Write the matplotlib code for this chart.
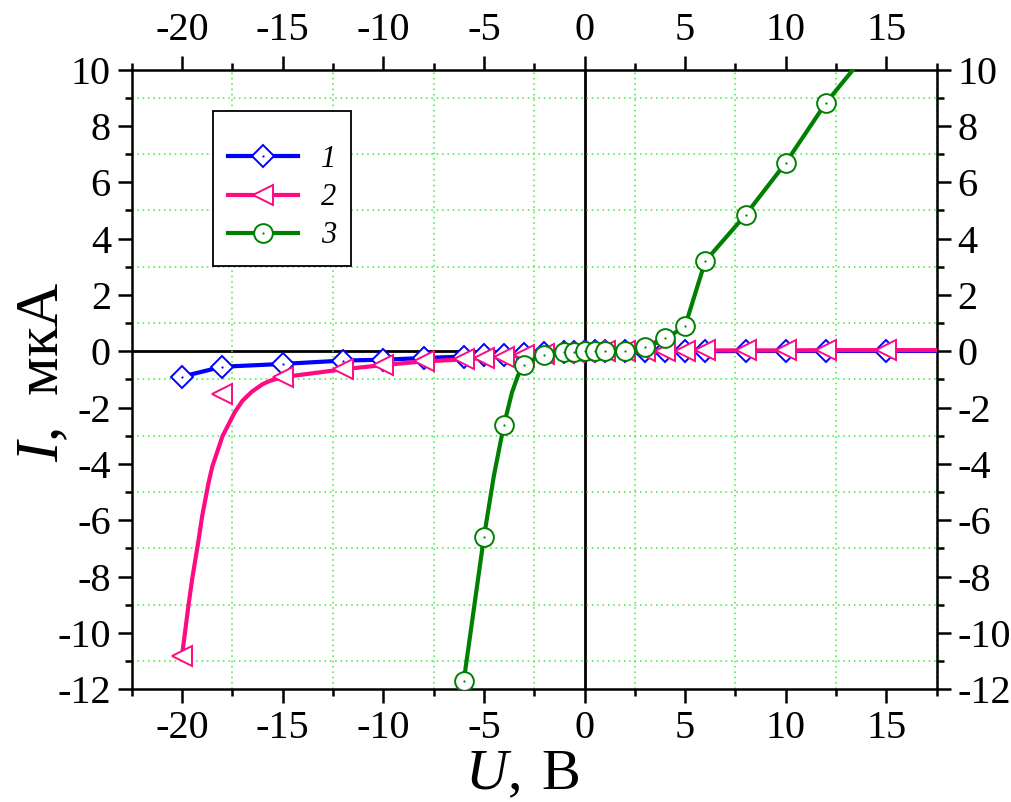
import matplotlib
matplotlib.use("Agg")
import matplotlib.pyplot as plt
from matplotlib.ticker import MultipleLocator, FixedLocator
from matplotlib.legend_handler import HandlerTuple
from matplotlib.patches import Rectangle

plt.rcParams['font.family'] = ['Liberation Serif', 'DejaVu Serif']
plt.rcParams['mathtext.fontset'] = 'custom'
plt.rcParams['mathtext.it'] = 'Liberation Serif:italic'
plt.rcParams['mathtext.rm'] = 'Liberation Serif'
plt.rcParams['axes.unicode_minus'] = False

# ---- data ----
U12 = [-20, -18, -15, -12, -10, -8, -6, -5, -4, -3, -2, -1, -0.5, 0, 0.5, 1, 2, 3, 4, 5, 6, 8, 10, 12, 15]
I1 = [-0.9, -0.55, -0.45, -0.33, -0.3, -0.24, -0.19, -0.15, -0.12, -0.08, -0.05, -0.03, -0.02, 0.0,
      0.0, 0.0, 0.0, 0.0, 0.0, 0.0, 0.0, 0.01, 0.01, 0.01, 0.01]
I2 = [-10.8, -1.52, -0.92, -0.64, -0.49, -0.36, -0.29, -0.24, -0.2, -0.13, -0.08, -0.05, -0.03, -0.01,
      0.0, 0.01, 0.01, 0.02, 0.02, 0.02, 0.03, 0.03, 0.03, 0.04, 0.04]
U3 = [-6, -5, -4, -3, -2, -1, -0.5, 0, 0.5, 1, 2, 3, 4, 5, 6, 8, 10, 12]
I3 = [-11.7, -6.6, -2.6, -0.5, -0.14, -0.03, -0.02, 0.0, 0.0, 0.01, 0.02, 0.15, 0.46, 0.9, 3.2, 4.84, 6.69, 8.82]

# curve traces
L1_U = [-20, -18, -15, -12, -10, -8, -6, -5, -4, -3, -2, -1, 0, 1, 2, 4, 6, 8, 10, 12, 15, 17.5]
L1_I = [-0.9, -0.55, -0.45, -0.33, -0.3, -0.24, -0.19, -0.15, -0.12, -0.08, -0.05, -0.03, 0.0, 0.0,
        0.0, 0.0, 0.0, 0.01, 0.01, 0.01, 0.01, 0.01]
L2_U = [-20, -19.69, -19.5, -19.19, -19.0, -18.69, -18.5, -18.11, -18.0, -17.37, -17.0, -16.54, -16.0,
        -15.63, -15, -12, -10, -8, -6, -5, -4, -3, -2, -1, 0, 1, 2, 4, 6, 8, 10, 12, 15, 17.5]
L2_I = [-10.8, -9.07, -8.1, -6.75, -5.85, -4.69, -4.1, -3.27, -3.03, -2.15, -1.76, -1.44, -1.17,
        -1.05, -0.92, -0.64, -0.49, -0.36, -0.29, -0.24, -0.2, -0.13, -0.08, -0.05, -0.01, 0.01, 0.01,
        0.02, 0.03, 0.03, 0.03, 0.04, 0.04, 0.04]
L3_U = [-6, -5, -4.5, -4, -3.6, -3.3, -3, -2.5, -2, -1, 0, 1, 2, 3, 3.5, 4, 4.5, 5, 6, 8, 10, 12, 13.35]
L3_I = [-11.7, -6.6, -4.4, -2.6, -1.45, -0.85, -0.5, -0.27, -0.14, -0.03, 0.0, 0.01, 0.02, 0.15, 0.28,
        0.46, 0.66, 0.9, 3.2, 4.84, 6.69, 8.82, 10.0]

labels = ['1', '2', '3']
c_blue = '#0000FF'
c_pink = '#FF0A82'
c_green = '#008000'

fig = plt.figure(figsize=(10.11, 8.02), dpi=100)
ax = fig.add_axes([0.1303, 0.1405, 0.7962, 0.7728])

ax.set_xlim(-22.5, 17.5)
ax.set_ylim(-12, 10)

ax.xaxis.set_major_locator(MultipleLocator(5))
ax.xaxis.set_minor_locator(FixedLocator([-22.5, -17.5, -12.5, -7.5, -2.5, 2.5, 7.5, 12.5, 17.5]))
ax.yaxis.set_major_locator(MultipleLocator(2))
ax.yaxis.set_minor_locator(MultipleLocator(1))

ax.grid(True, which='minor', color='#33F033', linestyle=(0, (1, 2.5)), linewidth=1.1)
ax.grid(False, which='major')
ax.axhline(0, color='black', lw=2.0, zorder=1.5)
ax.axvline(0, color='black', lw=2.0, zorder=1.5)

lw = 3.0
mew = 1.4
ax.plot(L1_U, L1_I, color=c_blue, lw=lw, zorder=3)
m1, = ax.plot(U12, I1, linestyle='none', marker='D', ms=11.5, mfc='white', mec=c_blue, mew=mew, zorder=4)
d1, = ax.plot(U12, I1, linestyle='none', marker='o', ms=1.6, mfc=c_blue, mec=c_blue, mew=0, zorder=4.1)

ax.plot(L2_U, L2_I, color=c_pink, lw=lw, zorder=5, solid_joinstyle='round')
m2, = ax.plot(U12, I2, linestyle='none', marker='<', ms=15, mfc='white', mec=c_pink, mew=mew, zorder=6)

ax.plot(L3_U, L3_I, color=c_green, lw=lw, zorder=7, solid_joinstyle='round')
m3, = ax.plot(U3, I3, linestyle='none', marker='o', ms=13.5, mfc='white', mec=c_green, mew=mew, zorder=8)
d3, = ax.plot(U3, I3, linestyle='none', marker='o', ms=1.6, mfc=c_green, mec=c_green, mew=0, zorder=8.1)

# legend frame
ax.add_patch(Rectangle((0.1006, 0.6834), 0.1714, 0.2496, transform=ax.transAxes, facecolor='white',
                       edgecolor='black', lw=1.3, zorder=9))
# legend handles
h1, = ax.plot([], [], color=c_blue, lw=lw, marker='D', ms=11.5, mfc='white', mec=c_blue, mew=mew)
h2, = ax.plot([], [], color=c_pink, lw=lw, marker='<', ms=15, mfc='white', mec=c_pink, mew=mew)
h3, = ax.plot([], [], color=c_green, lw=lw, marker='o', ms=13.5, mfc='white', mec=c_green, mew=mew)
leg = ax.legend([(h1, d1), (h2,), (h3, d3)], labels, handler_map={tuple: HandlerTuple(ndivide=1)},
                loc='upper left', bbox_to_anchor=(0.1196, 0.878), borderaxespad=0,
                frameon=False, borderpad=0, handlelength=2.3, handletextpad=0.75,
                labelspacing=0.3, prop={'family': 'Liberation Serif', 'style': 'italic', 'size': 22})
leg.set_zorder(10)

for s in ax.spines.values():
    s.set_linewidth(1.8)

ax.tick_params(which='both', direction='out', top=True, right=True, labeltop=True, labelright=True,
               width=1.8, labelsize=29)
ax.tick_params(which='major', length=10, pad=5)
ax.tick_params(which='minor', length=5)

ax.set_xlabel('$U$, \u200aВ', fontsize=42)
ax.set_ylabel('$I$,  мкА', fontsize=44)
ax.xaxis.set_label_coords(0.4855, -0.096)
ax.yaxis.set_label_coords(-0.075, 0.512)

fig.savefig('out.png', dpi=100)
